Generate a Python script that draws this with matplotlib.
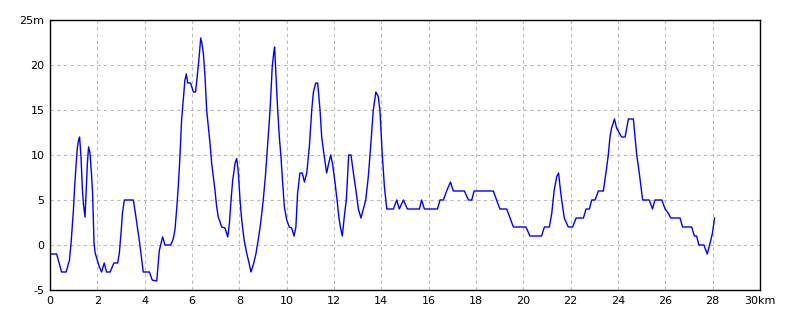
import matplotlib
matplotlib.use('Agg')
import matplotlib.pyplot as plt

# elevation profile (distance in km, height in m)
km = [0.0, 0.28, 0.49, 0.68, 0.82, 0.89, 0.94, 0.99, 1.04, 1.10, 1.15, 1.21,
      1.25, 1.31, 1.37, 1.42, 1.48, 1.52, 1.58, 1.63, 1.69, 1.75, 1.80, 1.86,
      1.91, 2.00, 2.08, 2.18, 2.29, 2.39, 2.54, 2.70, 2.86, 2.93, 3.00, 3.06,
      3.14, 3.52, 3.61, 3.69, 3.77, 3.84, 3.94, 4.20, 4.32, 4.51, 4.62, 4.76,
      4.86, 5.10, 5.21, 5.28, 5.35, 5.42, 5.49, 5.56, 5.63, 5.70, 5.76, 5.82,
      5.94, 6.06, 6.15, 6.22, 6.30, 6.37, 6.42, 6.48, 6.55, 6.62, 6.69, 6.76,
      6.83, 6.90, 6.97, 7.04, 7.11, 7.18, 7.25, 7.39, 7.51, 7.58, 7.65, 7.72,
      7.82, 7.89, 7.96, 8.03, 8.10, 8.20, 8.31, 8.41, 8.49, 8.59, 8.70, 8.80,
      8.90, 9.01, 9.10, 9.18, 9.27, 9.32, 9.39, 9.46, 9.49, 9.55, 9.62, 9.69,
      9.76, 9.83, 9.90, 10.00, 10.11, 10.21, 10.31, 10.39, 10.46, 10.56,
      10.66, 10.75, 10.85, 10.96, 11.06, 11.13, 11.23,
      11.31, 11.41, 11.48, 11.58, 11.69, 11.77, 11.86, 11.94, 12.04, 12.13,
      12.21, 12.27, 12.35, 12.45, 12.52, 12.62, 12.72, 12.82, 12.93, 13.03,
      13.14, 13.24, 13.34, 13.45, 13.55, 13.66, 13.77, 13.87, 13.94, 14.04,
      14.13, 14.23, 14.51, 14.65, 14.76, 14.93, 15.10, 15.61, 15.70, 15.82,
      16.37, 16.48, 16.62, 16.76, 16.92, 17.04, 17.51, 17.68, 17.82, 17.92,
      18.73, 18.87, 19.01, 19.30, 19.44, 19.58, 20.11, 20.28, 20.77, 20.89,
      21.10, 21.20, 21.30, 21.41, 21.49, 21.55, 21.62, 21.73, 21.90, 22.08,
      22.23, 22.54, 22.65, 22.79, 22.89, 23.03, 23.17, 23.38, 23.49, 23.59,
      23.66, 23.73, 23.85, 23.94, 24.15, 24.30, 24.44, 24.65, 24.79, 24.90,
      25.04, 25.32, 25.46, 25.56, 25.85, 25.99, 26.13, 26.23, 26.62, 26.73,
      27.11, 27.23, 27.32, 27.42, 27.63, 27.77, 27.89, 27.99, 28.08]
elev = [-1, -1, -3, -3, -1.7, 0.2, 2, 3.9, 6.5, 8.7, 10.7, 11.7,
        12, 9.8, 6.1, 4.4, 3.1, 5.4, 9.1, 10.9, 10.2, 8, 5.7, 0.2,
        -0.9, -1.7, -2.4, -3, -2, -3, -3, -2, -2, -0.9, 1.3, 3.5,
        5, 5, 3.5, 2, 0.6, -0.9, -3, -3, -3.9, -4, -0.6, 0.9,
        0, 0, 0.7, 1.7, 3.9, 6.5, 9.8, 13.9, 16.1, 18.3, 19, 18,
        18, 17, 17, 18.7, 20.9, 23, 22.4, 21.3, 18.7, 15, 13.1, 11.3,
        9.1, 7.6, 6.1, 4.3, 3.1, 2.6, 2, 1.9, 0.9, 2.4, 5, 7.2,
        9.1, 9.6, 8, 5, 2.8, 0.6, -0.9, -2, -3, -2.2, -1, 0.6,
        2.4, 5, 7.6, 10.6, 13.9, 16.1, 19.8, 21.5, 22, 18.7, 15, 12,
        9.8, 6.9, 4.3, 2.8, 2, 1.9, 1, 2, 5.7, 8,
        8, 7, 8, 11, 15, 17, 18,
        18, 15, 12, 10, 8, 9, 10, 9, 7, 5,
        3, 2, 1, 3.5, 5, 10, 10, 8, 6, 4,
        3, 4, 5, 7.6, 11, 15, 17, 16.5, 15, 10,
        6.5, 4, 4, 5, 4, 5, 4, 4, 5, 4,
        4, 5, 5, 6, 7, 6, 6, 5, 5, 6,
        6, 5, 4, 4, 3, 2, 2, 1, 1, 2,
        2, 3.5, 6, 7.6, 8, 6.5, 5, 3, 2, 2,
        3, 3, 4, 4, 5, 5, 6, 6, 8, 10,
        12, 13, 14, 13, 12, 12, 14, 14, 10, 8,
        5, 5, 4, 5, 5, 4, 3.5, 3, 3, 2,
        2, 1, 1, 0, 0, -1, 0.2, 1.3, 3]

xticks = [0, 2, 4, 6, 8, 10, 12, 14, 16, 18, 20, 22, 24, 26, 28, 30]
xlabels = [str(v) for v in xticks[:-1]] + ['30km']
yticks = [-5, 0, 5, 10, 15, 20, 25]
ylabels = [str(v) for v in yticks[:-1]] + ['25m']

fig = plt.figure(figsize=(8, 3.2), dpi=100)
ax = fig.add_axes([0.0625, 0.09375, 0.8875, 0.84375])

ax.plot(km, elev, color='#0000ff', linewidth=1.0)

ax.set_xlim(0, 30)
ax.set_ylim(-5, 25)
ax.set_xticks(xticks)
ax.set_xticklabels(xlabels)
ax.set_yticks(yticks)
ax.set_yticklabels(ylabels)
ax.tick_params(length=0, labelsize=8, pad=4)
ax.grid(True, color='#bbbbbb', linestyle=(0, (3, 3)), linewidth=0.8)
for s in ax.spines.values():
    s.set_linewidth(1.0)
    s.set_color('black')

fig.savefig('out.png', dpi=100)
